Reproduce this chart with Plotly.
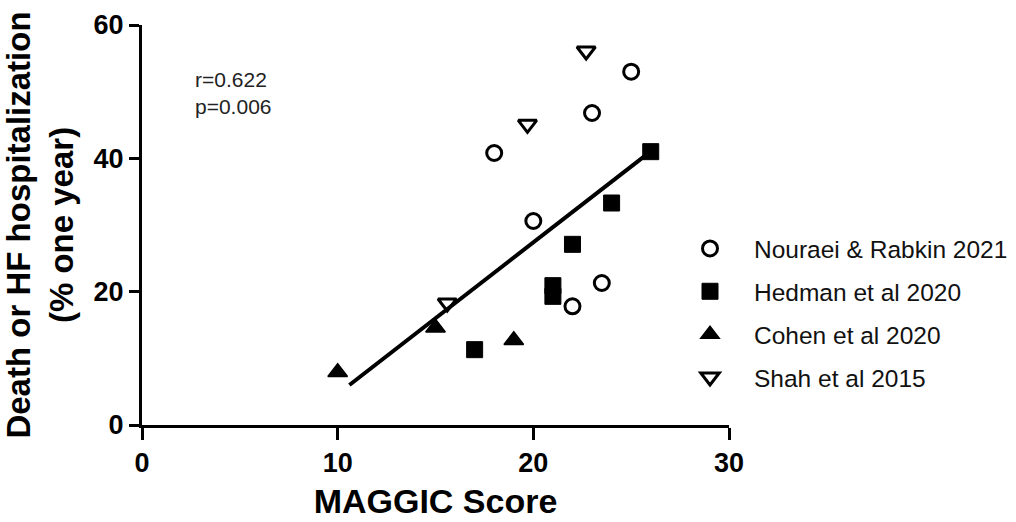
import plotly.graph_objects as go

# ---- data ----
nouraei_x = [18, 20, 23, 25, 22, 23.5]
nouraei_y = [40.8, 30.6, 46.8, 53.0, 17.8, 21.3]

hedman_x = [17, 21, 21, 22, 24, 26]
hedman_y = [11.3, 20.9, 19.3, 27.1, 33.3, 41.0]

cohen_x = [10, 15, 19]
cohen_y = [7.9, 14.6, 12.7]

shah_x = [15.6, 19.7, 22.7]
shah_y = [18.3, 45.1, 56.1]

fit_x = [10.6, 25.8]
fit_y = [6.0, 40.6]

x_ticks = [0, 10, 20, 30]
y_ticks = [0, 20, 40, 60]

series_names = ["Nouraei & Rabkin 2021", "Hedman et al 2020", "Cohen et al 2020", "Shah et al 2015"]

FONT = "Liberation Sans, Arial, sans-serif"

fig = go.Figure()

fig.add_trace(go.Scatter(
    x=fit_x, y=fit_y, mode="lines",
    line=dict(color="black", width=4),
    showlegend=False, hoverinfo="skip",
))

fig.add_trace(go.Scatter(
    x=nouraei_x, y=nouraei_y, mode="markers", name=series_names[0], legendgroup="a",
    marker=dict(symbol="circle-open", size=15, color="black", line=dict(width=3, color="black")),
))
fig.add_trace(go.Scatter(
    x=hedman_x, y=hedman_y, mode="markers", name=series_names[1], legendgroup="b",
    marker=dict(symbol="square", size=16, color="black", line=dict(width=1, color="black")),
))
fig.add_trace(go.Scatter(
    x=cohen_x, y=cohen_y, mode="markers", name=series_names[2], legendgroup="c",
    marker=dict(symbol="triangle-up", size=17, color="black", line=dict(width=1.5, color="black")),
))
fig.add_trace(go.Scatter(
    x=shah_x, y=shah_y, mode="markers", name=series_names[3], legendgroup="d",
    marker=dict(symbol="triangle-down-open", size=16, color="black", line=dict(width=3, color="black")),
))

fig.update_layout(
    width=1016, height=522,
    margin=dict(l=142, r=287, t=25, b=97, autoexpand=False),
    paper_bgcolor="white", plot_bgcolor="white",
    font=dict(family=FONT, color="black"),
    showlegend=True,
    legend=dict(
        xref="container", yref="container",
        x=666 / 1016, y=1 - 226 / 522, xanchor="left", yanchor="top",
        font=dict(family=FONT, size=24.5, color="#111"),
        itemwidth=78, tracegroupgap=8,
        bgcolor="rgba(0,0,0,0)",
    ),
    xaxis=dict(
        range=[0, 30], tickvals=x_ticks, ticktext=[str(v) for v in x_ticks],
        showgrid=False, zeroline=False, automargin=False,
        showline=True, linecolor="black", linewidth=3,
        ticks="outside", ticklen=12, tickwidth=3, tickcolor="black",
        tickfont=dict(family=FONT, size=27, color="black", weight="bold"),
        title=dict(text="MAGGIC Score", standoff=12,
                   font=dict(family=FONT, size=34, color="black", weight="bold")),
    ),
    yaxis=dict(
        range=[0, 60], tickvals=y_ticks, ticktext=[str(v) for v in y_ticks],
        showgrid=False, zeroline=False, automargin=False,
        showline=True, linecolor="black", linewidth=3,
        ticks="outside", ticklen=10, tickwidth=3, tickcolor="black",
        tickfont=dict(family=FONT, size=27, color="black", weight="bold"),
        title=dict(text="Death or HF hospitalization<br>(% one year)", standoff=14,
                   font=dict(family=FONT, size=33, color="black", weight="bold")),
    ),
    annotations=[dict(
        text="r=0.622<br>p=0.006", xref="paper", yref="paper",
        x=(193 - 142) / 587, y=(425 - 66) / 400, xanchor="left", yanchor="top",
        showarrow=False, align="left",
        font=dict(family=FONT, size=21, color="#222"),
    )],
)

fig.write_html("out.html")
